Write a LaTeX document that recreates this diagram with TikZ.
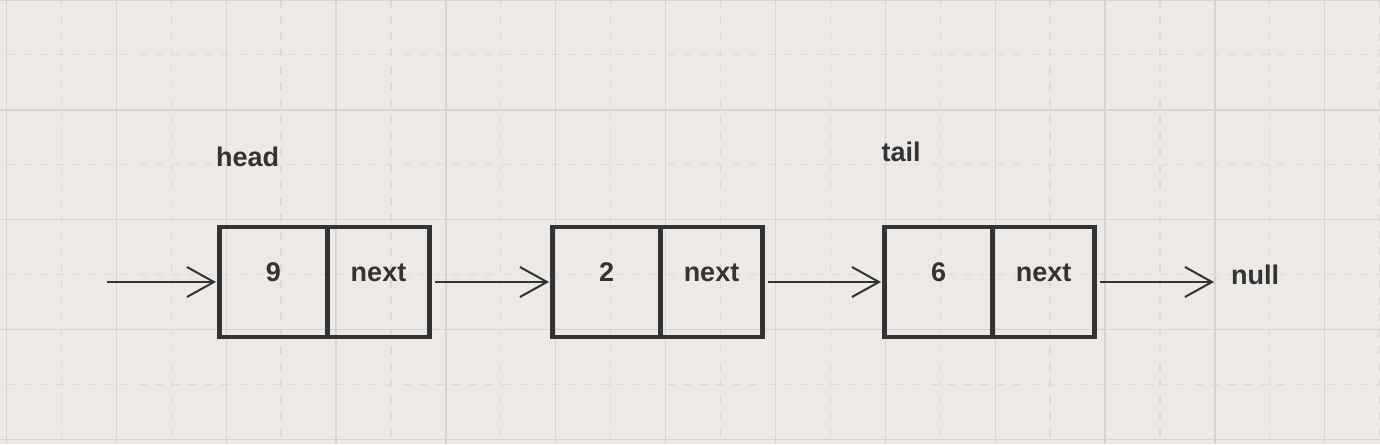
\documentclass[tikz,border=0pt]{standalone}
\usepackage{fontspec}
\setmainfont{Liberation Sans}
\usetikzlibrary{positioning, arrows.meta}

\definecolor{paper}{RGB}{236,233,230}
\definecolor{gridsolid}{RGB}{214,211,209}
\definecolor{griddash}{RGB}{220,217,215}
\definecolor{ink}{RGB}{51,51,51}

\tikzset{
    cell/.style={draw=ink, line width=4.5pt, minimum height=110pt,
        inner sep=0pt, outer sep=0pt, text height=20pt, text depth=20pt,
        text=ink, font=\bfseries\fontsize{27}{32}\selectfont},
    valcell/.style={cell, minimum width=108pt},
    nextcell/.style={cell, minimum width=102pt},
    link/.style={draw=ink, line width=2pt,
        -{Straight Barb[length=27pt,width=30pt]}},
    tag/.style={inner sep=0pt, anchor=base west, text=ink,
        font=\bfseries\fontsize{27}{32}\selectfont},
}

\begin{document}
\begin{tikzpicture}[x=1pt, y=1pt]
    \fill[paper] (0,0) rectangle (1380,444);
    \useasboundingbox (0,0) rectangle (1380,444);

    % background grid
    \foreach \k in {0,...,12}
        \draw[griddash, line width=1.3pt, dash pattern=on 8pt off 8.5pt]
            ({61.4+109.85*\k},444) -- ++(0,-444);
    \foreach \k in {0,...,3}
        \draw[griddash, line width=1.3pt, dash pattern=on 8pt off 8.5pt]
            (6.5,{389.3-109.9*\k}) -- ++(1373.5,0);
    \foreach \k in {0,...,12}
        \draw[gridsolid, line width=1.3pt] ({6.5+109.85*\k},0) -- ++(0,444);
    \foreach \k in {0,...,4}
        \draw[gridsolid, line width=1.3pt] (0,{444-109.9*\k}) -- ++(1380,0);

    % list nodes
    \node[valcell] (n1val) at (273.5,162) {9};
    \node[nextcell, right=0pt of n1val] (n1next) {next};
    \begin{scope}[xshift=333pt]
        \node[valcell] (n2val) at (273.5,162) {2};
        \node[nextcell, right=0pt of n2val] (n2next) {next};
    \end{scope}
    \begin{scope}[xshift=665pt]
        \node[valcell] (n3val) at (273.5,162) {6};
        \node[nextcell, right=0pt of n3val] (n3next) {next};
    \end{scope}

    \node[tag] (head) at (216,277) {head};
    \node[tag] (tail) at (881.5,282) {tail};
    \node[tag] (null) at (1231,159) {null};

    % pointers
    \coordinate (start) at (107,162);
    \coordinate (nullend) at (1214,162);
    \draw[link, shorten >=3.5pt] (start) -- (n1val.west);
    \draw[link, shorten <=5.5pt, shorten >=3.5pt] (n1next.east) -- (n2val.west);
    \draw[link, shorten <=5.5pt, shorten >=3.5pt] (n2next.east) -- (n3val.west);
    \draw[link, shorten <=5.5pt] (n3next.east) -- (nullend);

\end{tikzpicture}
\end{document}
